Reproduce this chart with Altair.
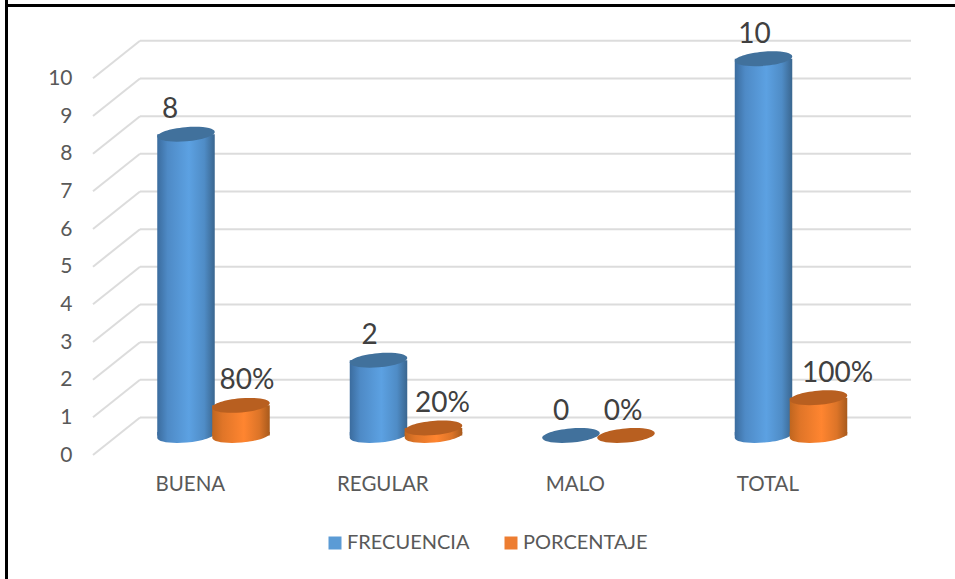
import altair as alt
import pandas as pd

# Values of the survey table
categories = ["BUENA", "REGULAR", "MALO", "TOTAL"]
frecuencia = [8, 2, 0, 10]
porcentaje = [0.8, 0.2, 0.0, 1.0]
porcentaje_labels = ["80%", "20%", "0%", "100%"]
frecuencia_labels = ["8", "2", "0", "10"]

FONT = "Lato"
UNIT_PX = 452 / 12          # pixels per value unit on the y scale
SLOT_PX = 192.5             # pixels per category on the x scale
WIDTH_PX = 57.5             # cylinder diameter
WALL_DEPTH = 37.5 / UNIT_PX   # back wall, in value units above the front floor
BASE_DEPTH = 19.5 / UNIT_PX   # cylinder base, in value units above the front floor
X_MIN, X_MAX = -93 / SLOT_PX, 725 / SLOT_PX
WALL_X = X_MIN + 47 / SLOT_PX
HALF = WIDTH_PX / 2 / SLOT_PX
SERIES_SHIFT = 55 / SLOT_PX

# Horizontal nudges of the value labels, in pixels
blue_dx = [-16, -9, -10, -9]
orange_dx = [6, 9, -3, 19]

TILT = 0.088
RY = 0.245
top_shape = (
    f"M -1 {TILT} A 1 {RY} -5 1 1 1 {-TILT} "
    f"A 1 {RY} -5 1 1 -1 {TILT} Z"
)
# Lower rim of the cylinder, reaching a little into the body so no seam shows
base_shape = (
    f"M -1 -0.12 L -1 {TILT} A 1 {RY} -5 1 0 1 {-TILT} L 1 -0.12 Z"
)


def side_gradient(stops):
    return alt.Gradient(
        gradient="linear",
        x1=0, x2=1, y1=0, y2=0,
        stops=[alt.GradientStop(offset=o, color=c) for o, c in stops],
    )


x_scale = alt.Scale(domain=[X_MIN, X_MAX], nice=False, zero=False)
y_scale = alt.Scale(domain=[0, 12], nice=False, zero=False)

x_axis = alt.Axis(
    values=[i + 0.02 for i in range(len(categories))],
    labelExpr="['" + "','".join(categories) + "'][round(datum.value)]",
    domain=False, ticks=False, grid=False, title=None,
    labelFont=FONT, labelFontSize=20.5, labelColor="#595959",
    labelPadding=19,
)
y_axis = alt.Axis(
    values=list(range(11)),
    domain=False, ticks=False, grid=False, title=None,
    labelFont=FONT, labelFontSize=21, labelColor="#595959",
    labelPadding=21,
)

# Gridlines: a diagonal on the side wall plus a horizontal on the back wall
grid = pd.DataFrame({"v": list(range(11))})
grid["x_left"] = X_MIN
grid["x_wall"] = WALL_X
grid["x_right"] = X_MAX
grid["front"] = grid["v"].astype(float)
grid["back"] = grid["v"] + WALL_DEPTH

grid_side = alt.Chart(grid).mark_rule(color="#DCDCDC", strokeWidth=2).encode(
    x=alt.X("x_left:Q", scale=x_scale, axis=x_axis),
    x2="x_wall:Q",
    y=alt.Y("front:Q", scale=y_scale, axis=y_axis),
    y2="back:Q",
)
grid_back = alt.Chart(grid).mark_rule(color="#DCDCDC", strokeWidth=2).encode(
    x=alt.X("x_wall:Q", scale=x_scale),
    x2="x_right:Q",
    y=alt.Y("back:Q", scale=y_scale),
)


def series_table(name, values, labels, shift, nudges):
    df = pd.DataFrame({"cat": categories, "value": values, "label": labels})
    df["series"] = name
    df["nudge"] = nudges
    df["center"] = [i + shift for i in range(len(categories))]
    df["left"] = df["center"] - HALF
    df["right"] = df["center"] + HALF
    df["bottom"] = BASE_DEPTH
    df["top"] = df["value"] + BASE_DEPTH
    df["label_x"] = df["center"] + df["nudge"] / SLOT_PX
    df["label_y"] = df["top"] + 24 / UNIT_PX
    return df


blue = series_table("FRECUENCIA", frecuencia, frecuencia_labels, 0.0, blue_dx)
orange = series_table("PORCENTAJE", porcentaje, porcentaje_labels, SERIES_SHIFT, orange_dx)

SIZE = WIDTH_PX ** 2
color_scale = alt.Scale(domain=["FRECUENCIA", "PORCENTAJE"], range=["#5B9BD5", "#ED7D31"])
legend = alt.Legend(
    title=None, orient="none", legendX=232, legendY=530, direction="horizontal",
    symbolType="square", symbolSize=169, symbolStrokeWidth=0,
    labelFont=FONT, labelFontSize=20, labelColor="#595959",
    columnPadding=31, labelOffset=2,
)


def cylinder(df, side, top_color):
    x = alt.X("center:Q", scale=x_scale)
    # The flat base colour sits fully under the shaded rim and carries the legend
    flat = alt.Chart(df).mark_point(
        shape=base_shape, filled=True, size=SIZE * 0.8, opacity=1, strokeWidth=0
    ).encode(
        x=x,
        y=alt.Y("bottom:Q", scale=y_scale),
        color=alt.Color("series:N", scale=color_scale, legend=legend),
    ).transform_filter("datum.value > 0")
    rim = alt.Chart(df).mark_point(
        shape=base_shape, filled=True, size=SIZE, opacity=1, strokeWidth=0, fill=side
    ).encode(
        x=x, y=alt.Y("bottom:Q", scale=y_scale)
    ).transform_filter("datum.value > 0")
    body = alt.Chart(df).mark_bar(fill=side, stroke=None).encode(
        x=alt.X("left:Q", scale=x_scale),
        x2="right:Q",
        y=alt.Y("bottom:Q", scale=y_scale),
        y2="top:Q",
    ).transform_filter("datum.value > 0")
    cap = alt.Chart(df).mark_point(
        shape=top_shape, filled=True, size=SIZE, opacity=1, strokeWidth=0, fill=top_color
    ).encode(x=x, y=alt.Y("top:Q", scale=y_scale))
    return [flat, rim, body, cap]


def value_labels(df):
    return alt.Chart(df).mark_text(
        font=FONT, fontSize=28, color="#404040", baseline="middle", align="center"
    ).encode(
        x=alt.X("label_x:Q", scale=x_scale),
        y=alt.Y("label_y:Q", scale=y_scale),
        text="label:N",
    )


# Outer frame of the figure: only the left and top edges are drawn
frame_table = pd.DataFrame({"edge": ["frame"]})
frame_left = alt.Chart(frame_table).mark_rule(color="#000000", strokeWidth=3).encode(
    x=alt.value(-86.5), y=alt.value(-3), y2=alt.value(576)
)
frame_top = alt.Chart(frame_table).mark_rule(color="#000000", strokeWidth=3).encode(
    x=alt.value(-88), x2=alt.value(862), y=alt.value(2.5)
)

blue_side = side_gradient([
    (0, "#3B6C9E"), (0.18, "#4E8AC6"), (0.55, "#5CA1E2"), (0.82, "#4F8CC6"), (1, "#3A668F"),
])
orange_side = side_gradient([
    (0, "#C0661F"), (0.18, "#E07528"), (0.55, "#FF8530"), (0.82, "#DC7428"), (1, "#A85A1C"),
])

chart = alt.layer(
    grid_side,
    grid_back,
    *cylinder(blue, blue_side, "#41719C"),
    *cylinder(orange, orange_side, "#B85F20"),
    value_labels(blue),
    value_labels(orange),
    frame_left,
    frame_top,
).resolve_scale(color="shared").properties(
    width=818,
    height=452,
    padding={"left": 93, "top": 3, "right": 44, "bottom": 124},
    autosize=alt.AutoSizeParams(type="none"),
    background="white",
).configure_view(stroke=None)

chart.save("out.html", embed_options={"renderer": "svg", "actions": False})
